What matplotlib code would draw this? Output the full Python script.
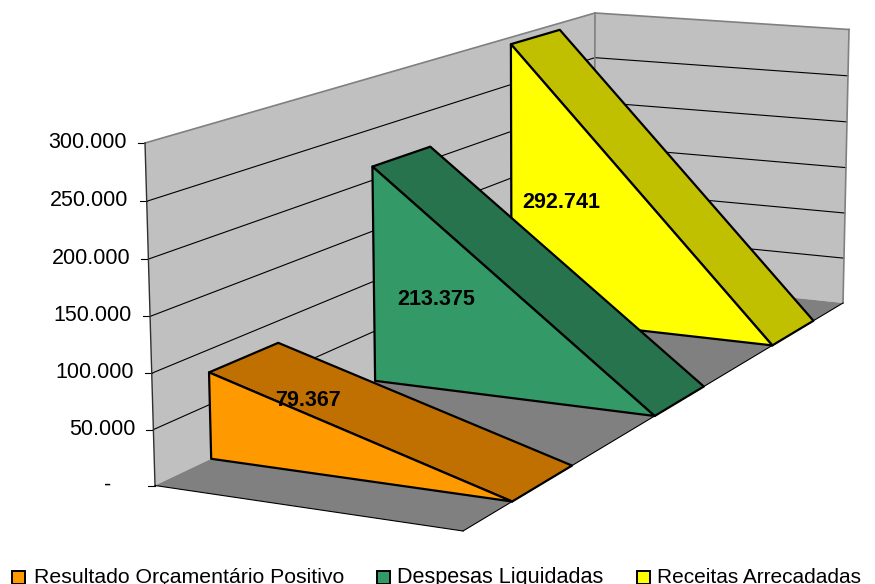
import numpy as np
import matplotlib
matplotlib.use("Agg")
import matplotlib.pyplot as plt
from matplotlib.patches import Polygon, Rectangle

plt.rcParams['font.family'] = ['Liberation Sans', 'DejaVu Sans']

# data
series_names = ["Resultado Orçamentário Positivo", "Despesas Liquidadas", "Receitas Arrecadadas"]
series_values = [79367, 213375, 292741]
value_labels = ["79.367", "213.375", "292.741"]
tick_values = [0, 50000, 100000, 150000, 200000, 250000, 300000]
tick_labels = ["-", "50.000", "100.000", "150.000", "200.000", "250.000", "300.000"]

front_colors = ["#FF9900", "#339966", "#FFFF00"]
top_colors = ["#C07000", "#26734D", "#C0C000"]
legend_box_x = [12, 377, 637]
legend_text_x = [34, 397, 657]
legend_sizes = [15.35, 15.6, 15.0]
label_pos = [(307.5, 400.5), (436, 299.5), (561, 202.5)]

z_max = 300000.0
band = 0.066  # half depth of one series

# camera: box corners (x, y, z) and where they sit in the picture
box = [(0,0,0), (0,0,1), (0,1,1), (1,1,1), (1,1,0), (1,0,0)]
pix = [(155,485.5), (145,143), (595,13), (849,29.5), (843,303), (463,531)]
A = []
b = []
for (x, y, z), (u, v) in zip(box, pix):
    A.append([x, y, z, 1, 0, 0, 0, 0, -u*x, -u*y, -u*z])
    b.append(u)
    A.append([0, 0, 0, 0, x, y, z, 1, -v*x, -v*y, -v*z])
    b.append(v)
cam = np.linalg.lstsq(np.array(A, float), np.array(b, float), rcond=None)[0]
cam = np.append(cam, 1).reshape(3, 4)


def proj(x, y, z):
    h = cam @ np.array([x, y, z, 1.0])
    return h[:2] / h[2]


fig = plt.figure(figsize=(8.75, 5.84), dpi=100)
ax = fig.add_axes([0, 0, 1, 1])
ax.set_xlim(0, 875)
ax.set_ylim(584, 0)
ax.axis('off')

# walls and floor
ax.add_patch(Polygon([proj(0,0,0), proj(0,0,1), proj(0,1,1), proj(0,1,0)], fc="#C0C0C0", ec="none", zorder=1))
ax.add_patch(Polygon([proj(0,1,0), proj(0,1,1), proj(1,1,1), proj(1,1,0)], fc="#C0C0C0", ec="none", zorder=1))
ax.add_patch(Polygon([proj(0,0,0), proj(1,0,0), proj(1,1,0), proj(0,1,0)], fc="#808080", ec="none", zorder=1))


def seg(p, q, color, lw, z=2):
    ax.plot([p[0], q[0]], [p[1], q[1]], color=color, lw=lw, zorder=z, solid_capstyle='projecting')


# gridlines and ticks
for t in tick_values[1:-1]:
    z = t / z_max
    seg(proj(0,0,z), proj(0,1,z), "#000000", 0.8)
    seg(proj(0,1,z), proj(1,1,z), "#000000", 0.8)
for t, lab in zip(tick_values, tick_labels):
    z = t / z_max
    p = proj(0,0,z)
    seg((p[0]-7, p[1]), p, "#000000", 0.8)
    off = 44 if lab == "-" else 18
    ax.text(p[0]-off, p[1]-0.5, lab, ha='right', va='center', fontsize=15.5, color="#000000", zorder=5)

# wall outlines
seg(proj(0,0,1), proj(0,1,1), "#808080", 1.2)
seg(proj(0,1,1), proj(1,1,1), "#808080", 1.2)
seg(proj(1,1,1), proj(1,1,0), "#808080", 1.2)
seg(proj(0,1,1), proj(0,1,0), "#808080", 1.2)
seg(proj(0,0,1), proj(0,0,0), "#303030", 1.0)
seg(proj(0,0,0), proj(1,0,0), "#000000", 0.8)
seg(proj(1,0,0), proj(1,1,0), "#000000", 0.8)

# wedges, back series first so the front ones cover them
for i in [2, 1, 0]:
    zv = series_values[i] / z_max
    y0 = (i + 0.5) / 3 - band
    y1 = (i + 0.5) / 3 + band
    zo = 3 + (2 - i)
    ax.add_patch(Polygon([proj(0,y0,zv), proj(0,y1,zv), proj(1,y1,0), proj(1,y0,0)],
                         fc=top_colors[i], ec="#000000", lw=1.6, joinstyle='round', zorder=zo))
    ax.add_patch(Polygon([proj(0,y0,0), proj(0,y0,zv), proj(1,y0,0)],
                         fc=front_colors[i], ec="#000000", lw=1.6, joinstyle='round', zorder=zo))

# value labels
for (lx, ly), lab in zip(label_pos, value_labels):
    ax.text(lx, ly, lab, ha='center', va='center', fontsize=15.5, fontweight='bold', color="#000000", zorder=8)

# legend
for name, col, bx, tx, fs in zip(series_names, front_colors, legend_box_x, legend_text_x, legend_sizes):
    ax.add_patch(Rectangle((bx, 571), 12.5, 12.5, fc=col, ec="#000000", lw=1.4, zorder=5))
    ax.text(tx, 583, name, ha='left', va='baseline', fontsize=fs, color="#000000", zorder=5)

fig.savefig("out.png", dpi=100)
